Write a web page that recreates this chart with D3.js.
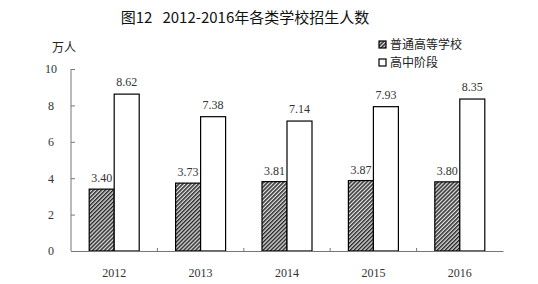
<!DOCTYPE html>
<html>
<head>
<meta charset="utf-8">
<script src="https://cdn.jsdelivr.net/npm/d3@7"></script>
<style>
  body { margin: 0; background: #fff; }
  svg { display: block; }
</style>
</head>
<body>
<div id="chart"></div>
<script>
const years = ["2012", "2013", "2014", "2015", "2016"];
const higherEdu = [3.40, 3.73, 3.81, 3.87, 3.80];
const highSchool = [8.62, 7.38, 7.14, 7.93, 8.35];
const seriesNames = ["普通高等学校", "高中阶段"];
const yTicks = [0, 2, 4, 6, 8, 10];

const W = 538, H = 284;
const margin = { top: 69, right: 35, bottom: 33, left: 71 };
const width = W - margin.left - margin.right;
const height = H - margin.top - margin.bottom;
const numFont = "'Liberation Serif', 'DejaVu Serif', serif";
const cjkFont = "'Noto Sans CJK SC', sans-serif";

const svg = d3.select("#chart").append("svg")
  .attr("width", W).attr("height", H);

// 斜线填充
const defs = svg.append("defs");
defs.append("pattern")
  .attr("id", "hatch")
  .attr("patternUnits", "userSpaceOnUse")
  .attr("width", 2.8).attr("height", 2.8)
  .attr("patternTransform", "rotate(45)")
  .call(p => {
    p.append("rect").attr("width", 2.8).attr("height", 2.8).attr("fill", "#e4e4e4");
    p.append("rect").attr("width", 1.5).attr("height", 2.8).attr("fill", "#2a2a2a");
  });

const g = svg.append("g").attr("transform", `translate(${margin.left},${margin.top})`);

const x = d3.scaleBand().domain(years).range([0, width]).padding(0);
const y = d3.scaleLinear().domain([0, 10]).range([height, 0]);
const barW = 25;

// y 轴
const yAxis = g.append("g")
  .call(d3.axisRight(y).tickValues(yTicks).tickSize(4).tickFormat(d3.format("d")));
yAxis.select(".domain").attr("stroke", "#777").attr("d", `M0,${y(10)}V${height}`);
yAxis.selectAll(".tick line").attr("stroke", "#777");
yAxis.selectAll(".tick text")
  .attr("x", -20).attr("text-anchor", "middle")
  .style("font-family", numFont).style("font-size", "12px").attr("fill", "#333");

// 柱子
years.forEach((yr, i) => {
  const cx = x(yr) + x.bandwidth() / 2;
  g.append("rect")
    .attr("x", cx - barW).attr("y", y(higherEdu[i]))
    .attr("width", barW).attr("height", height - y(higherEdu[i]))
    .attr("fill", "url(#hatch)").attr("stroke", "#000").attr("stroke-width", 1.2);
  g.append("rect")
    .attr("x", cx).attr("y", y(highSchool[i]))
    .attr("width", barW).attr("height", height - y(highSchool[i]))
    .attr("fill", "#fff").attr("stroke", "#000").attr("stroke-width", 1.2);
  g.append("text")
    .attr("x", cx - barW / 2).attr("y", y(higherEdu[i]) - 7)
    .attr("text-anchor", "middle")
    .style("font-family", numFont).style("font-size", "12px").attr("fill", "#333")
    .text(higherEdu[i].toFixed(2));
  g.append("text")
    .attr("x", cx + barW / 2).attr("y", y(highSchool[i]) - 8)
    .attr("text-anchor", "middle")
    .style("font-family", numFont).style("font-size", "12px").attr("fill", "#333")
    .text(highSchool[i].toFixed(2));
});

// x 轴
const xAxis = g.append("g").attr("transform", `translate(0,${height})`)
  .call(d3.axisBottom(x).tickSize(0).tickPadding(17));
xAxis.select(".domain").attr("stroke", "#777");
xAxis.selectAll(".tick text")
  .style("font-family", numFont).style("font-size", "12px").attr("fill", "#333");
g.append("g").selectAll("line")
  .data(years.slice(1))
  .join("line")
  .attr("x1", d => x(d)).attr("x2", d => x(d))
  .attr("y1", height).attr("y2", height - 3)
  .attr("stroke", "#777");

// 标题
svg.append("text")
  .attr("x", 245).attr("y", 23)
  .attr("text-anchor", "middle")
  .style("white-space", "pre")
  .style("font-family", cjkFont).style("font-size", "15px").style("font-weight", "normal")
  .attr("fill", "#111")
  .text("图12   2012-2016年各类学校招生人数");

// 单位
svg.append("text")
  .attr("x", 64).attr("y", 52)
  .attr("text-anchor", "middle")
  .style("font-family", cjkFont).style("font-size", "12px").attr("fill", "#222")
  .text("万人");

// 图例
const legend = svg.append("g").attr("transform", "translate(379,41)");
seriesNames.forEach((name, i) => {
  const ly = i * 18;
  legend.append("rect")
    .attr("x", 0).attr("y", ly).attr("width", 7).attr("height", 7)
    .attr("fill", i === 0 ? "url(#hatch)" : "#fff")
    .attr("stroke", "#000").attr("stroke-width", 1.2);
  legend.append("text")
    .attr("x", 11).attr("y", ly + 8)
    .style("font-family", cjkFont).style("font-size", "12px").attr("fill", "#222")
    .text(name);
});
</script>
</body>
</html>
